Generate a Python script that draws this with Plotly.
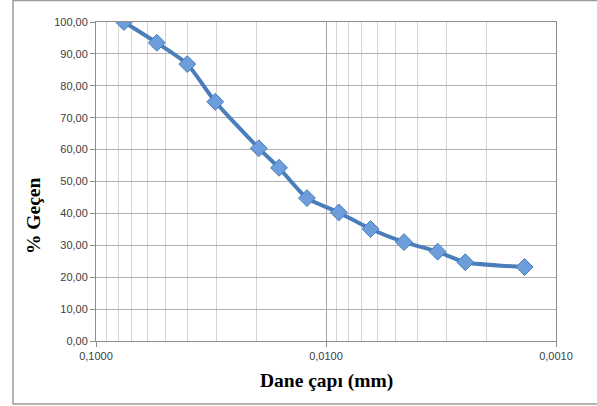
import plotly.graph_objects as go

# Data
dane_capi_mm = [0.0756, 0.0544, 0.0401, 0.0303, 0.0196, 0.0160, 0.0121,
                0.0088, 0.0064, 0.00458, 0.00327, 0.00248, 0.00137]
gecen_yuzde = [100.0, 93.5, 86.8, 75.0, 60.4, 54.3, 44.8,
               40.3, 35.1, 31.0, 28.0, 24.7, 23.2]

x_title = "Dane çapı (mm)"
y_title = "% Geçen"

L, R, T, B = 96, 41, 22, 65
W, H = 597, 406
PW, PH = W - L - R, H - T - B

fig = go.Figure()
fig.add_trace(go.Scatter(
    x=dane_capi_mm, y=gecen_yuzde,
    mode="lines+markers",
    line=dict(color="#4a7ebb", width=4, shape="spline", smoothing=0.6),
    marker=dict(symbol="diamond", size=13, color="#6d9ddb",
                line=dict(color="#4a7ebb", width=1)),
    showlegend=False,
))

tick_font = dict(family="Liberation Sans, Arial, sans-serif", size=11, color="#404040")
title_font = dict(family="Liberation Serif, Times New Roman, serif", size=19.5, color="#000000")

fig.update_layout(
    width=W, height=H,
    margin=dict(l=L, r=R, t=T, b=B),
    paper_bgcolor="white", plot_bgcolor="white",
    separators=",.",
    xaxis=dict(
        type="log", range=[-1, -3], dtick=1, tickformat=".4f",
        showgrid=True, gridcolor="#a6a6a6", gridwidth=1,
        minor=dict(dtick="D1", showgrid=True, gridcolor="#d4d4d4", gridwidth=1, ticks=""),
        showline=True, linecolor="#8c8c8c", linewidth=1, mirror=True,
        ticks="outside", ticklen=5, tickcolor="#8c8c8c",
        tickfont=tick_font, zeroline=False,
    ),
    yaxis=dict(
        range=[0, 100], dtick=10, tickformat=".2f",
        showgrid=True, gridcolor="#b0b0b0", gridwidth=1,
        showline=True, linecolor="#8c8c8c", linewidth=1, mirror=True,
        ticks="outside", ticklen=5, tickcolor="#8c8c8c",
        tickfont=tick_font, zeroline=False,
    ),
    annotations=[
        dict(text="<b>" + x_title + "</b>", xref="paper", yref="paper",
             x=(326.5 - L) / PW, y=(H - B - 381) / PH, xanchor="center", yanchor="middle",
             showarrow=False, font=title_font),
        dict(text="<b>" + y_title + "</b>", xref="paper", yref="paper",
             x=(33 - L) / PW, y=(H - B - 216) / PH, xanchor="center", yanchor="middle",
             textangle=-90, showarrow=False, font=title_font),
    ],
    shapes=[dict(type="rect", xref="paper", yref="paper",
                 x0=(13 - L) / PW, x1=(620 - L) / PW,
                 y0=(H - B - 404) / PH, y1=(H - B - 0.5) / PH,
                 line=dict(color="#9a9a9a", width=1.5), layer="below")],
)

fig.write_html("out.html", config={"displayModeBar": False},
               post_script="document.body.style.margin='0';")
